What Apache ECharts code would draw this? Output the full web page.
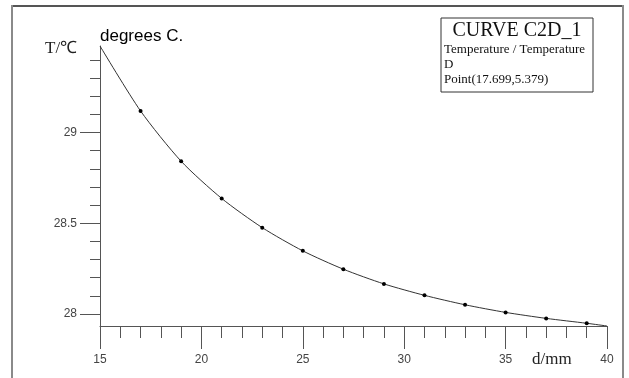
<!DOCTYPE html>
<html>
<head>
<meta charset="utf-8">
<script src="https://cdn.jsdelivr.net/npm/echarts@6/dist/echarts.min.js"></script>
<style>
html,body{margin:0;padding:0;background:#fff;}
#chart{width:629px;height:378px;}
</style>
</head>
<body>
<div id="chart"></div>
<script>
// Data
var distances = [15, 17, 19, 21, 23, 25, 27, 29, 31, 33, 35, 37, 39, 40];
var temperatures = [29.477, 29.119, 28.842, 28.637, 28.476, 28.348, 28.247, 28.166, 28.103, 28.051, 28.009, 27.976, 27.949, 27.934];
var markedPoint = [false, true, true, true, true, true, true, true, true, true, true, true, true, false];
var xMinorTicks = [16, 17, 18, 19, 21, 22, 23, 24, 26, 27, 28, 29, 31, 32, 33, 34, 36, 37, 38, 39];
var yMajorTicks = [28, 28.5, 29];
var yMinorTicks = [28.1, 28.2, 28.3, 28.4, 28.6, 28.7, 28.8, 28.9, 29.1, 29.2, 29.3, 29.4];
var xMin = 15, xMax = 40, yMin = 27.934, yMax = 29.477;
var yUnit = 'T/\u2103';
var xUnit = 'd/mm';
var chartTitle = 'degrees C.';
var legendTitle = 'CURVE C2D_1';
var legendLines = ['Temperature / Temperature', 'D', 'Point(17.699,5.379)'];

var chart = echarts.init(document.getElementById('chart'));
var axisColor = '#555';
var labelColor = '#444';

var seriesData = distances.map(function (d, i) {
  return {
    value: [d, temperatures[i]],
    symbolSize: markedPoint[i] ? 4 : 0
  };
});

var option = {
  backgroundColor: '#fff',
  animation: false,
  grid: { left: 100, top: 46, right: 22, bottom: 52, containLabel: false },
  xAxis: [
    {
      type: 'value', min: xMin, max: xMax, interval: 5, position: 'bottom',
      axisLine: { show: true, onZero: false, lineStyle: { color: axisColor, width: 1 } },
      axisTick: { show: true, inside: false, length: 23, lineStyle: { color: axisColor } },
      axisLabel: { color: labelColor, fontFamily: 'Liberation Sans, Arial, sans-serif', fontSize: 12, margin: 28 },
      splitLine: { show: false }
    },
    {
      type: 'value', min: xMin, max: xMax, position: 'bottom', offset: 0,
      axisLine: { show: false },
      axisTick: { show: true, length: 12, customValues: xMinorTicks, lineStyle: { color: axisColor } },
      axisLabel: { show: false },
      splitLine: { show: false }
    }
  ],
  yAxis: [
    {
      type: 'value', min: yMin, max: yMax, position: 'left',
      axisLine: { show: true, onZero: false, lineStyle: { color: axisColor, width: 1 } },
      axisTick: { show: true, length: 20, customValues: yMajorTicks, lineStyle: { color: axisColor } },
      axisLabel: { show: true, customValues: yMajorTicks, color: labelColor, fontFamily: 'Liberation Sans, Arial, sans-serif', fontSize: 12, margin: 23,
        formatter: function (v) { return String(Math.round(v * 10) / 10); } },
      splitLine: { show: false }
    },
    {
      type: 'value', min: yMin, max: yMax, position: 'left', offset: 0,
      axisLine: { show: false },
      axisTick: { show: true, length: 10, customValues: yMinorTicks, lineStyle: { color: axisColor } },
      axisLabel: { show: false },
      splitLine: { show: false }
    }
  ],
  series: [{
    type: 'line',
    xAxisIndex: 0, yAxisIndex: 0,
    data: seriesData,
    smooth: 0.25,
    symbol: 'circle',
    showAllSymbol: true,
    lineStyle: { color: '#333', width: 1 },
    itemStyle: { color: '#000' },
    z: 5
  }],
  graphic: [
    { type: 'line', shape: { x1: 12, y1: 6, x2: 624, y2: 6 }, style: { stroke: '#555', lineWidth: 2 } },
    { type: 'line', shape: { x1: 12, y1: 5, x2: 12, y2: 400 }, style: { stroke: '#8a8a8a', lineWidth: 2 } },
    { type: 'line', shape: { x1: 623, y1: 5, x2: 623, y2: 400 }, style: { stroke: '#8a8a8a', lineWidth: 2 } },
    { type: 'text', left: 45, top: 40, style: { text: yUnit, font: '17px "Liberation Serif", "Times New Roman", serif', fill: '#222' } },
    { type: 'text', left: 100, top: 28, style: { text: chartTitle, font: '17px "Liberation Sans", Arial, sans-serif', fill: '#000' } },
    { type: 'text', left: 532, top: 351, style: { text: xUnit, font: '17px "Liberation Serif", "Times New Roman", serif', fill: '#222' } },
    { type: 'rect', shape: { x: 441, y: 18, width: 152, height: 74 }, style: { fill: '#fff', stroke: '#333', lineWidth: 1 } },
    { type: 'text', x: 517, y: 21, style: { text: legendTitle, align: 'center', font: '20px "Liberation Serif", "Times New Roman", serif', fill: '#111' } },
    { type: 'text', x: 444, y: 43, style: { text: legendLines[0], font: '13px "Liberation Serif", "Times New Roman", serif', fill: '#111' } },
    { type: 'text', x: 444, y: 58, style: { text: legendLines[1], font: '13px "Liberation Serif", "Times New Roman", serif', fill: '#111' } },
    { type: 'text', x: 444, y: 73, style: { text: legendLines[2], font: '13px "Liberation Serif", "Times New Roman", serif', fill: '#111' } }
  ]
};
chart.setOption(option);
</script>
</body>
</html>
